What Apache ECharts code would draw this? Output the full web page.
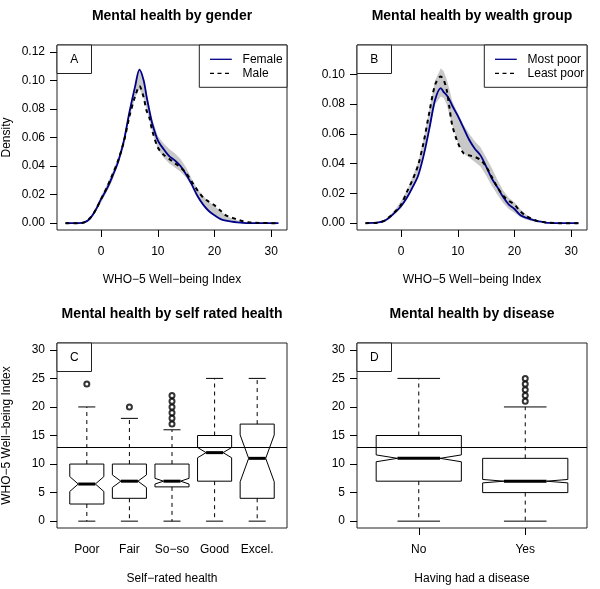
<!DOCTYPE html>
<html><head><meta charset="utf-8">
<script src="https://cdn.jsdelivr.net/npm/echarts@6/dist/echarts.min.js"></script>
<style>html,body{margin:0;padding:0;background:#fff}#c{width:600px;height:589px}</style>
</head><body><div id="c"></div>
<script>
// ---------- Panel A: density by gender ----------
const gridA = [-6.3,-4,-3,-2,-1,0,1,2,3,4,5,6,6.75,7.5,8,8.5,9,10,11,12,13,14,15,16,17,18,19,20,21,22,23,24,25,26,28,31.3];
const femaleA = [0,0,0.0005,0.003,0.009,0.017,0.024,0.033,0.043,0.0575,0.078,0.096,0.1075,0.100,0.089,0.079,0.070,0.058,0.052,0.047,0.044,0.040,0.034,0.027,0.019,0.013,0.0085,0.0055,0.003,0.0017,0.0011,0.0006,0.0002,0,0,0];
const maleA = [0,0,0.0005,0.0035,0.009,0.017,0.025,0.034,0.044,0.057,0.075,0.089,0.096,0.088,0.079,0.074,0.065,0.053,0.048,0.045,0.042,0.039,0.035,0.029,0.023,0.018,0.015,0.0125,0.009,0.0055,0.004,0.0025,0.0014,0.0006,0.0001,0];
const bandLoA = [0,0,0.0003,0.0025,0.0075,0.0145,0.022,0.030,0.041,0.055,0.074,0.088,0.094,0.088,0.080,0.072,0.064,0.052,0.046,0.042,0.039,0.036,0.032,0.026,0.018,0.0125,0.0085,0.006,0.0035,0.002,0.001,0.0005,0.0002,0,0,0];
const bandHiA = [0,0,0.0007,0.004,0.0105,0.019,0.027,0.036,0.046,0.060,0.080,0.098,0.109,0.101,0.092,0.082,0.073,0.061,0.056,0.052,0.049,0.045,0.039,0.031,0.024,0.019,0.015,0.012,0.0085,0.0055,0.0035,0.002,0.0012,0.0005,0.0001,0];

// ---------- Panel B: density by wealth group ----------
const gridB = [-6.3,-4,-3,-2,-1,0,1,2,3,4,5,6,7,7.5,8,8.5,9,10,11,12,13,14,15,16,17,18,19,20,21,22,23,24,25,26,28,31.3];
const mostPoorB = [0,0.0005,0.0015,0.004,0.0075,0.0115,0.017,0.024,0.032,0.046,0.064,0.083,0.0907,0.088,0.086,0.083,0.079,0.072,0.064,0.056,0.050,0.0455,0.038,0.030,0.024,0.0175,0.0125,0.0095,0.0055,0.0037,0.0025,0.0014,0.0008,0.0002,0,0];
const leastPoorB = [0,0.0004,0.0015,0.0045,0.008,0.0125,0.021,0.029,0.039,0.055,0.075,0.093,0.0985,0.096,0.090,0.078,0.066,0.054,0.047,0.0455,0.0445,0.0425,0.038,0.031,0.024,0.0185,0.015,0.0125,0.008,0.005,0.003,0.0015,0.0008,0.0003,0,0];
const bandLoB = [0,0.0003,0.0012,0.0035,0.0065,0.010,0.016,0.023,0.031,0.045,0.063,0.080,0.085,0.084,0.080,0.073,0.066,0.054,0.047,0.044,0.041,0.038,0.032,0.025,0.019,0.0135,0.0095,0.007,0.0042,0.0025,0.0014,0.0008,0.0004,0.0001,0,0];
const bandHiB = [0,0.0007,0.002,0.005,0.0095,0.015,0.022,0.031,0.041,0.057,0.077,0.096,0.104,0.102,0.097,0.090,0.082,0.074,0.066,0.060,0.055,0.051,0.044,0.037,0.029,0.022,0.017,0.014,0.0095,0.006,0.0035,0.0019,0.001,0.0004,0.0001,0];

const densityTicksA = [0,0.02,0.04,0.06,0.08,0.10,0.12];
const densityTicksB = [0,0.02,0.04,0.06,0.08,0.10];
const indexTicks = [0,10,20,30];

// ---------- Panel C: boxplots by self rated health ----------
const categoriesC = ['Poor','Fair','So\u2212so','Good','Excel.'];
const q1C = [3,4,6,7,4];
const confLoC = [5.2,5.9,6.5,11.1,6.9];
const medianC = [6.5,7,7,12,11];
const confHiC = [7.8,8.1,7.5,12.9,15.1];
const q3C = [10,10,10,15,17];
const whiskLoC = [0,0,0,0,0];
const whiskHiC = [20,18,16,25,25];
const outlierCatC = [1,2,3,3,3,3,3,3];
const outlierValC = [24,20,17,18,19,20,21,22];

// ---------- Panel D: boxplots by disease ----------
const categoriesD = ['No','Yes'];
const q1D = [7,5];
const confLoD = [10.4,6.7];
const medianD = [11,7];
const confHiD = [11.6,7.3];
const q3D = [15,11];
const whiskLoD = [0,0];
const whiskHiD = [25,20];
const outlierCatD = [2,2,2,2,2];
const outlierValD = [21,22,23,24,25];

const scoreTicks = [0,5,10,15,20,25,30];
const cutoff = 13;

const legendNamesA = ['Female','Male'];
const legendNamesB = ['Most poor','Least poor'];

const FONT = '"Liberation Sans", Arial, Helvetica, sans-serif';
const BLUE = '#00008B';

function zip(xs, ys){ return xs.map((x,i)=>[x, ys[i]]); }

function bandSeries(idx, xs, lo, hi){
  return {
    type:'custom', xAxisIndex:idx, yAxisIndex:idx, silent:true, z:1,
    data:[[xs[0], 0]],
    renderItem:function(p, api){
      const pts=[];
      for(let i=0;i<xs.length;i++) pts.push(api.coord([xs[i], hi[i]]));
      for(let i=xs.length-1;i>=0;i--) pts.push(api.coord([xs[i], lo[i]]));
      return {type:'polygon', shape:{points:pts}, style:{fill:'#c8c8c8', stroke:null}};
    }
  };
}
function lineSeries(idx, name, xs, ys, dashed){
  return {
    type:'line', name:name, xAxisIndex:idx, yAxisIndex:idx, data:zip(xs, ys),
    symbol:'none', showSymbol:false, smooth:0.3, z:3, silent:true,
    lineStyle: dashed ? {color:'#000', width:2, type:[4,4]} : {color:BLUE, width:1.8, type:'solid'},
    itemStyle:{color: dashed ? '#000' : BLUE}
  };
}
function boxData(q1, lo, med, hi, q3, wl, wh){
  return q1.map((v,i)=>[i+1, q1[i], lo[i], med[i], hi[i], q3[i], wl[i], wh[i]]);
}
function renderBox(p, api){
  const x = api.value(0);
  const q1=api.value(1), lo=api.value(2), med=api.value(3), hi=api.value(4), q3=api.value(5), wl=api.value(6), wh=api.value(7);
  const w = api.size([0.4, 0])[0];
  const px = api.coord([x, q1])[0];
  const y = v => api.coord([x, v])[1];
  const pts = [[px-w,y(q1)],[px+w,y(q1)],[px+w,y(lo)],[px+w/2,y(med)],[px+w,y(hi)],[px+w,y(q3)],[px-w,y(q3)],[px-w,y(hi)],[px-w/2,y(med)],[px-w,y(lo)]];
  const dash = {stroke:'#000', lineWidth:1, lineDash:[4,4]};
  const solid = {stroke:'#000', lineWidth:1};
  return {type:'group', children:[
    {type:'line', shape:{x1:px,y1:y(q3),x2:px,y2:y(wh)}, style:dash},
    {type:'line', shape:{x1:px,y1:y(q1),x2:px,y2:y(wl)}, style:dash},
    {type:'line', shape:{x1:px-w/2,y1:y(wh),x2:px+w/2,y2:y(wh)}, style:solid},
    {type:'line', shape:{x1:px-w/2,y1:y(wl),x2:px+w/2,y2:y(wl)}, style:solid},
    {type:'polygon', shape:{points:pts}, style:{fill:'none', stroke:'#000', lineWidth:1}},
    {type:'line', shape:{x1:px-w/2,y1:y(med),x2:px+w/2,y2:y(med)}, style:{stroke:'#000', lineWidth:3}}
  ]};
}
function boxSeries(idx, data){
  return {type:'custom', xAxisIndex:idx, yAxisIndex:idx, data:data, renderItem:renderBox, silent:true, z:3};
}
function outlierSeries(idx, cats, vals){
  return {
    type:'scatter', xAxisIndex:idx, yAxisIndex:idx, data:zip(cats, vals), silent:true,
    symbol:'emptyCircle', symbolSize:5, itemStyle:{color:'#000', borderColor:'#000', borderWidth:0.8}, z:4,
    markLine:{silent:true, symbol:'none', label:{show:false}, lineStyle:{color:'#000', width:1, type:'solid'},
      data:[{yAxis:cutoff}], animation:false}
  };
}

const txt = {fontSize:12, fontFamily:FONT, color:'#000'};
function axis(gridIndex, min, max, ticks, fmt, name, nameGap, isX, showTick){
  return {
    type:'value', gridIndex, min, max, name, nameLocation:'middle', nameGap,
    nameTextStyle:txt,
    axisLine:{show:false, onZero:false},
    axisTick:{show:showTick, length:7, customValues:ticks, lineStyle:{color:'#000', width:1}},
    axisLabel:Object.assign({show:true, customValues:ticks, formatter:fmt, margin: isX ? 16 : 12}, txt),
    splitLine:{show:false}
  };
}

const grids = [
  {left:57, top:45, width:230, height:185},
  {left:357, top:45, width:230, height:185},
  {left:57, top:343, width:230, height:185},
  {left:357, top:343, width:230, height:185}
].map(g=>Object.assign(g,{show:true, borderColor:'#222', borderWidth:1, backgroundColor:'transparent'}));

const idxName = 'WHO\u22125 Well\u2212being Index';
const xAxes = [
  axis(0, -7.8, 32.8, indexTicks, v=>String(v), idxName, 44, true, true),
  axis(1, -7.8, 32.8, indexTicks, v=>String(v), idxName, 44, true, true),
  axis(2, 0.3, 5.7, [1,2,3,4,5], v=>categoriesC[Math.round(v)-1], 'Self\u2212rated health', 45, true, false),
  axis(3, 0.42, 2.58, [1,2], v=>categoriesD[Math.round(v)-1], 'Having had a disease', 45, true, true)
];
const yAxes = [
  axis(0, -0.0048, 0.1248, densityTicksA, v=>v.toFixed(2), 'Density', 44, false, true),
  axis(1, -0.0046, 0.1196, densityTicksB, v=>v.toFixed(2), '', 44, false, true),
  axis(2, -1.2, 31.2, scoreTicks, v=>String(v), idxName, 44, false, true),
  axis(3, -1.2, 31.2, scoreTicks, v=>String(v), '', 44, false, true)
];

const titleStyle = {fontSize:14, fontWeight:'bold', fontFamily:FONT, color:'#000'};
const titles = [
  {text:'Mental health by gender', left:172, top:9},
  {text:'Mental health by wealth group', left:472, top:9},
  {text:'Mental health by self rated health', left:172, top:307},
  {text:'Mental health by disease', left:472, top:307}
].map(t=>Object.assign(t,{textAlign:'center', padding:0, textStyle:titleStyle}));

// legend drawn as boxed key (line sample + label)
function legendBox(x0, x1, names){
  const els = [{type:'rect', shape:{x:x0, y:45, width:x1-x0, height:42.3}, style:{fill:'#fff', stroke:'#222', lineWidth:1}, z:10}];
  const rows = [59.3, 73.3];
  names.forEach((n,i)=>{
    const dashed = i===1;
    els.push({type:'line', shape:{x1:x0+10.7, y1:rows[i], x2:x0+32.5, y2:rows[i]},
      style: dashed ? {stroke:'#000', lineWidth:1.3, lineDash:[4,3.5]} : {stroke:BLUE, lineWidth:1.3}, z:11});
    els.push({type:'text', x:x0+43.3, y:rows[i], style:{text:n, fill:'#000', font:'12px '+FONT, align:'left', verticalAlign:'middle'}, z:11});
  });
  return els;
}

function tag(x, y, letter){
  return [
    {type:'rect', shape:{x:x, y:y, width:34.5, height:28.5}, style:{fill:'#fff', stroke:'#222', lineWidth:1}, z:10},
    {type:'text', x:x+17.3, y:y+14.5, style:{text:letter, fill:'#000', font:'12px '+FONT, align:'center', verticalAlign:'middle'}, z:11}
  ];
}

const option = {
  animation:false,
  backgroundColor:'#fff',
  title:titles,
  grid:grids,
  xAxis:xAxes,
  yAxis:yAxes,
  graphic:[].concat(tag(57,45,'A'), tag(357,45,'B'), tag(57,343,'C'), tag(357,343,'D'),
    legendBox(199.3, 287, legendNamesA), legendBox(484.3, 587, legendNamesB)),
  series:[
    bandSeries(0, gridA, bandLoA, bandHiA),
    lineSeries(0, 'Female', gridA, femaleA, false),
    lineSeries(0, 'Male', gridA, maleA, true),
    bandSeries(1, gridB, bandLoB, bandHiB),
    lineSeries(1, 'Most poor', gridB, mostPoorB, false),
    lineSeries(1, 'Least poor', gridB, leastPoorB, true),
    boxSeries(2, boxData(q1C, confLoC, medianC, confHiC, q3C, whiskLoC, whiskHiC)),
    outlierSeries(2, outlierCatC, outlierValC),
    boxSeries(3, boxData(q1D, confLoD, medianD, confHiD, q3D, whiskLoD, whiskHiD)),
    outlierSeries(3, outlierCatD, outlierValD)
  ]
};
const chart = echarts.init(document.getElementById('c'), null, {renderer:'canvas'});
chart.setOption(option);
</script></body></html>
